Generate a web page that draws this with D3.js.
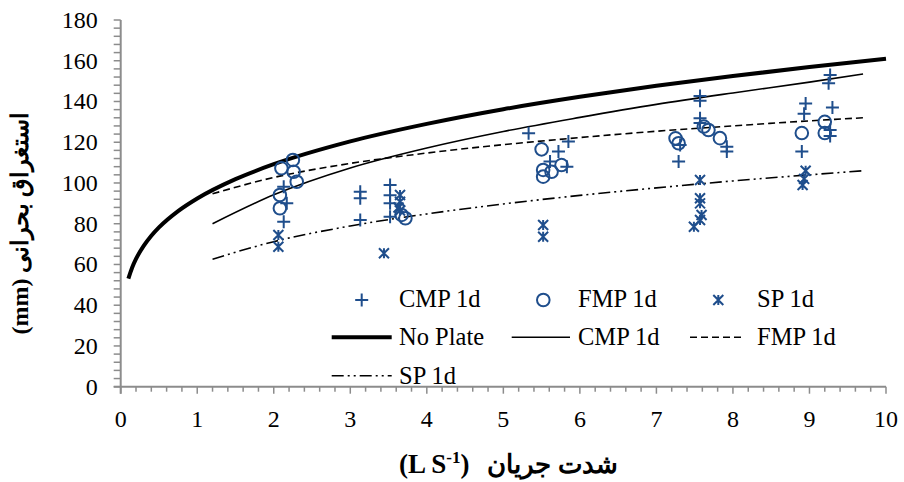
<!DOCTYPE html>
<html><head><meta charset="utf-8">
<script src="https://cdn.jsdelivr.net/npm/d3@7"></script>
<style>
body{margin:0;background:#fff;}
svg text{font-family:"Liberation Serif","Times New Roman","DejaVu Serif",serif;}
</style></head>
<body><svg id="c" width="904" height="482"></svg>
<script>
// ---- data ----
const xTicks = [0,1,2,3,4,5,6,7,8,9,10];
const yTicks = [0,20,40,60,80,100,120,140,160,180];

const cmpX = [2.13,2.17,2.13, 3.13,3.13,3.13, 3.52,3.52,3.52,3.52, 5.33,5.85,5.72,5.61,5.83, 7.57,7.57,7.57,7.57,7.31,7.29,7.92,7.92, 8.95,8.93,8.90,9.27,9.25,9.30,9.27,9.27];
const cmpY = [98.2,90,81, 95.7,92.5,81.8, 99,94,90,83.4, 124.4,120.3,115.4,110.5,108, 142.7,140.4,131.8,129.4,118.7,110.5,117.8,115.4, 139,134,115.5,153,149,137,126,123];

const fmpX = [2.25,2.10,2.26,2.30,2.08,2.08, 3.67,3.72, 5.50,5.76,5.52,5.63,5.52, 7.62,7.68,7.25,7.29,7.83, 8.90,9.20,9.20];
const fmpY = [111.3,107.2,105.5,100.6,94.1,87.6, 84.3,82.7, 116.5,108.8,106.4,105.5,103.1, 127.7,126,121.9,119.5,122, 124.5,130,124.5];

const spX = [2.06,2.06, 3.44,3.65,3.65,3.65,3.63, 5.52,5.52, 7.57,7.57,7.57,7.59,7.57,7.49, 8.95,8.93,8.91];
const spY = [74.5,68.7, 65.5,94.1,90.8,86.5,88, 79.4,73.6, 101.5,92.5,90,84.3,81.8,78.5, 106,102,99];

const noPlateX = [0.1,0.15,0.2,0.3,0.4,0.5,0.75,1,1.5,2,3,4,5,6,7,8,9,10];
const noPlateY = [53,58.5,62.7,69.1,74.1,78.2,86.2,92.4,101.9,109.2,120.4,129,136.2,142.3,147.7,152.5,156.9,161];
const trendX = [1.2,2,3,4,5,6,7,8,9,9.7];
const cmpLineY = [80,94.2,107.4,117.2,125.3,132.2,138.6,144.2,149.5,153.5];
const fmpLineY = [94.7,102.7,109.6,114.7,118.8,122.3,125.4,128,130.5,132];
const spLineY  = [62.6,71.2,78.9,84.8,89.7,93.9,97.6,101,104,106];

const legendLabels = ["CMP 1d","FMP 1d","SP 1d","No Plate","CMP 1d","FMP 1d","SP 1d"];
const yTitle = "استغراق بحرانی (mm)";
const xTitleFa = "شدت جریان";

// ---- drawing ----
const svg = d3.select("#c");
const L=120.7, R=886, T=20, B=386.7;
const blue = "#1f4e8c";
const axisCol = "#8c8c8c";
const x = d3.scaleLinear().domain([0,10]).range([L,R]);
const y = d3.scaleLinear().domain([0,180]).range([B,T]);

// axes
const yMinor = d3.range(0,181,4);
const ga = svg.append("g");
ga.selectAll(".ym").data(yMinor).enter().append("line")
  .attr("x1",L-7).attr("x2",L).attr("y1",d=>y(d)).attr("y2",d=>y(d))
  .attr("stroke",axisCol).attr("stroke-width",1.5);
const xMinor = d3.range(0,10.01,0.2);
ga.selectAll(".xm").data(xMinor).enter().append("line")
  .attr("x1",d=>x(d)).attr("x2",d=>x(d)).attr("y1",B).attr("y2",d=>Math.abs(d-Math.round(d))<1e-6?B+7:B+5)
  .attr("stroke",axisCol).attr("stroke-width",1.5);
ga.append("line").attr("x1",L).attr("x2",L).attr("y1",T).attr("y2",B+7).attr("stroke",axisCol).attr("stroke-width",2);
ga.append("line").attr("x1",L-7).attr("x2",R).attr("y1",B).attr("y2",B).attr("stroke",axisCol).attr("stroke-width",2);

ga.selectAll(".yl").data(yTicks).enter().append("text")
  .attr("x",L-23).attr("y",d=>y(d)+8).attr("text-anchor","end")
  .attr("font-size",24).text(d=>d);
ga.selectAll(".xl").data(xTicks).enter().append("text")
  .attr("x",d=>x(d)).attr("y",B+40).attr("text-anchor","middle")
  .attr("font-size",24).text(d=>d);

// titles
svg.append("text").attr("transform","translate(28,223) rotate(-90)")
  .attr("text-anchor","middle").attr("font-size",24).attr("font-weight","bold")
  .attr("direction","rtl").text(yTitle);
const xt = svg.append("text").attr("x",399).attr("y",473).attr("font-size",27).attr("font-weight","bold");
xt.append("tspan").text("(L S");
xt.append("tspan").attr("font-size",17).attr("dy",-10).text("-1");
xt.append("tspan").attr("dy",10).text(")");
svg.append("text").attr("x",487).attr("y",473).attr("font-size",26).attr("font-weight","bold").text(xTitleFa);

// lines
const line = d3.line().x(d=>x(d[0])).y(d=>y(d[1])).curve(d3.curveMonotoneX);
const zip=(a,b)=>a.map((v,i)=>[v,b[i]]);
const lineStyles = [
  {d:zip(noPlateX,noPlateY), w:4, dash:null},
  {d:zip(trendX,cmpLineY), w:1.6, dash:null},
  {d:zip(trendX,fmpLineY), w:1.6, dash:"7,4"},
  {d:zip(trendX,spLineY), w:1.6, dash:"12,4,2,4,2,4"}
];
lineStyles.forEach(s=>{
  svg.append("path").attr("d",line(s.d)).attr("fill","none").attr("stroke","#000")
    .attr("stroke-width",s.w).attr("stroke-dasharray",s.dash);
});

// markers
function plus(g,cx,cy){ g.append("path").attr("d",`M${cx-6.5},${cy}H${cx+6.5}M${cx},${cy-6.5}V${cy+6.5}`)
  .attr("stroke",blue).attr("stroke-width",2).attr("fill","none"); }
function circ(g,cx,cy){ g.append("circle").attr("cx",cx).attr("cy",cy).attr("r",6.3)
  .attr("stroke",blue).attr("stroke-width",2).attr("fill","none"); }
function star(g,cx,cy){ const s=5; g.append("path").attr("d",`M${cx-s},${cy-s}L${cx+s},${cy+s}M${cx-s},${cy+s}L${cx+s},${cy-s}M${cx},${cy-s}V${cy+s}`)
  .attr("stroke",blue).attr("stroke-width",2).attr("fill","none"); }
const gm = svg.append("g");
cmpX.forEach((v,i)=>plus(gm,x(v),y(cmpY[i])));
fmpX.forEach((v,i)=>circ(gm,x(v),y(fmpY[i])));
spX.forEach((v,i)=>star(gm,x(v),y(spY[i])));

// legend
const lg = svg.append("g").attr("font-size",24.5);
plus(lg,361.7,300); lg.append("text").attr("x",399).attr("y",307).text(legendLabels[0]);
circ(lg,543.3,300); lg.append("text").attr("x",578).attr("y",307).text(legendLabels[1]);
star(lg,718.3,300); lg.append("text").attr("x",757).attr("y",307).text(legendLabels[2]);
const legLines=[[331.7,391.7,337.3,4,null,399,3],[511.7,570,337.3,1.6,null,578,4],[690,743.3,337.3,1.6,"7,4",757,5],[331.7,391.7,375.7,1.6,"12,4,2,4,2,4",399,6]];
legLines.forEach(a=>{
  lg.append("line").attr("x1",a[0]).attr("x2",a[1]).attr("y1",a[2]).attr("y2",a[2])
    .attr("stroke","#000").attr("stroke-width",a[3]).attr("stroke-dasharray",a[4]);
  lg.append("text").attr("x",a[5]).attr("y",a[2]+8).text(legendLabels[a[6]]);
});
</script></body></html>
